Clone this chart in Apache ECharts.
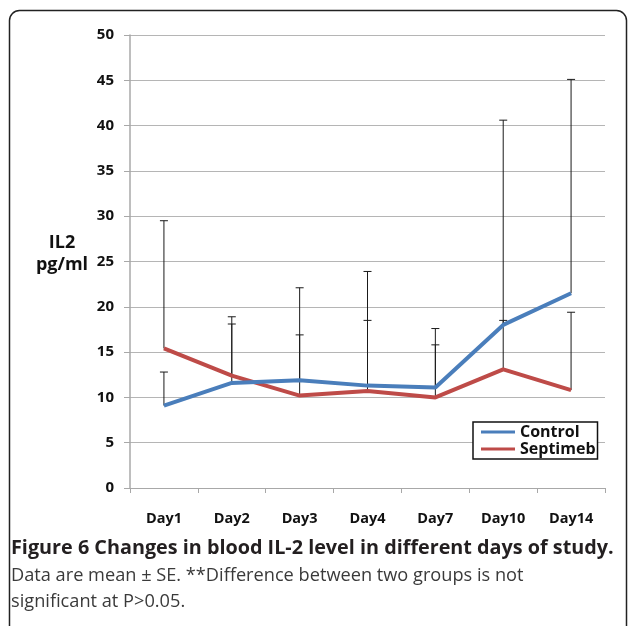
<!DOCTYPE html>
<html>
<head>
<meta charset="utf-8">
<script src="https://cdn.jsdelivr.net/npm/echarts@6/dist/echarts.min.js"></script>
<style>
html,body{margin:0;padding:0;background:#fff;}
#chart{width:629px;height:626px;}
</style>
</head>
<body>
<div id="chart"></div>
<script>
// ---- data ----
var categories = ['Day1','Day2','Day3','Day4','Day7','Day10','Day14'];
var controlMean = [9.1, 11.6, 11.9, 11.3, 11.1, 18.0, 21.5];
var septimebMean = [15.4, 12.4, 10.2, 10.7, 10.0, 13.1, 10.8];
var controlUpper = [12.8, 18.1, 16.9, 18.5, 15.8, 40.6, 45.1];
var septimebUpper = [29.5, 18.9, 22.1, 23.9, 17.6, 18.5, 19.4];
var yTicks = [0, 5, 10, 15, 20, 25, 30, 35, 40, 45, 50];
var seriesNames = ['Control', 'Septimeb'];
var captionTitle = 'Figure 6 Changes in blood IL-2 level in different days of study.';
var captionLines = ['Data are mean \u00b1 SE. **Difference between two groups is not', 'significant at P>0.05.'];

var chartFont = '"Open Sans", "Noto Sans", sans-serif';
var captionFont = '"Open Sans", "Noto Sans", sans-serif';

function errData(means, uppers) {
  return means.map(function (m, i) { return [i, m, uppers[i]]; });
}
function renderErr(params, api) {
  var i = api.value(0);
  var lo = api.coord([i, api.value(1)]);
  var hi = api.coord([i, api.value(2)]);
  var w = 4;
  var st = { stroke: '#1a1a1a', lineWidth: 1 };
  return {
    type: 'group',
    children: [
      { type: 'line', shape: { x1: lo[0], y1: lo[1], x2: hi[0], y2: hi[1] }, style: st },
      { type: 'line', shape: { x1: hi[0] - w, y1: hi[1], x2: hi[0] + w, y2: hi[1] }, style: st }
    ]
  };
}

var chart = echarts.init(document.getElementById('chart'), null, { renderer: 'canvas' });
chart.setOption({
  animation: false,
  backgroundColor: '#fff',
  grid: { left: 130, right: 24, top: 35, bottom: 138, containLabel: false },
  legend: {
    orient: 'vertical',
    left: 473, top: 422,
    data: seriesNames,
    icon: 'rect',
    itemWidth: 34, itemHeight: 3, itemGap: 1,
    padding: [2, 2, 2, 8],
    borderColor: '#111', borderWidth: 1.5,
    backgroundColor: '#fff',
    textStyle: { fontFamily: chartFont, fontWeight: 'bold', fontSize: 16, lineHeight: 16, color: '#111' }
  },
  xAxis: {
    type: 'category',
    data: categories,
    boundaryGap: true,
    axisLine: { lineStyle: { color: '#a8a8a8', width: 1 } },
    axisTick: { show: true, length: 5, lineStyle: { color: '#a8a8a8' } },
    axisLabel: { margin: 23, fontFamily: chartFont, fontWeight: 'bold', fontSize: 14.5, color: '#111' },
    splitLine: { show: false }
  },
  yAxis: {
    type: 'value',
    min: yTicks[0], max: yTicks[yTicks.length - 1], interval: 5,
    axisLine: { show: true, lineStyle: { color: '#a8a8a8', width: 1.5 } },
    axisTick: { show: true, length: 6, lineStyle: { color: '#a8a8a8' } },
    axisLabel: { margin: 16, fontFamily: chartFont, fontWeight: 'bold', fontSize: 15, color: '#111' },
    splitLine: { show: true, lineStyle: { color: '#b5b5b5', width: 1 } }
  },
  series: [
    { name: 'ctrlErr', type: 'custom', renderItem: renderErr, data: errData(controlMean, controlUpper), z: 1, silent: true },
    { name: 'sepErr', type: 'custom', renderItem: renderErr, data: errData(septimebMean, septimebUpper), z: 1, silent: true },
    { name: seriesNames[0], type: 'line', data: controlMean, symbol: 'none', color: '#4a7ebb', lineStyle: { width: 4, color: '#4a7ebb' }, z: 3 },
    { name: seriesNames[1], type: 'line', data: septimebMean, symbol: 'none', color: '#be4b48', lineStyle: { width: 4, color: '#be4b48' }, z: 2 }
  ],
  graphic: [
    { type: 'rect', shape: { x: 9.5, y: 10.5, width: 617, height: 640, r: 10 }, style: { fill: 'none', stroke: '#222', lineWidth: 1.5 }, z: 100 },
    { type: 'text', x: 62, y: 243, style: { text: 'IL2', font: 'bold 18px ' + chartFont, fill: '#111', textAlign: 'center', textVerticalAlign: 'middle' } },
    { type: 'text', x: 62, y: 265, style: { text: 'pg/ml', font: 'bold 18px ' + chartFont, fill: '#111', textAlign: 'center', textVerticalAlign: 'middle' } },
    { type: 'text', x: 11, y: 548, style: { text: captionTitle, font: 'bold 19.8px ' + captionFont, fill: '#231f20', textVerticalAlign: 'middle' } },
    { type: 'text', x: 11, y: 576, style: { text: captionLines[0], font: '18.2px ' + captionFont, fill: '#3a3a3a', textVerticalAlign: 'middle' } },
    { type: 'text', x: 11, y: 602, style: { text: captionLines[1], font: '18.2px ' + captionFont, fill: '#3a3a3a', textVerticalAlign: 'middle' } }
  ]
});
</script>
</body>
</html>
